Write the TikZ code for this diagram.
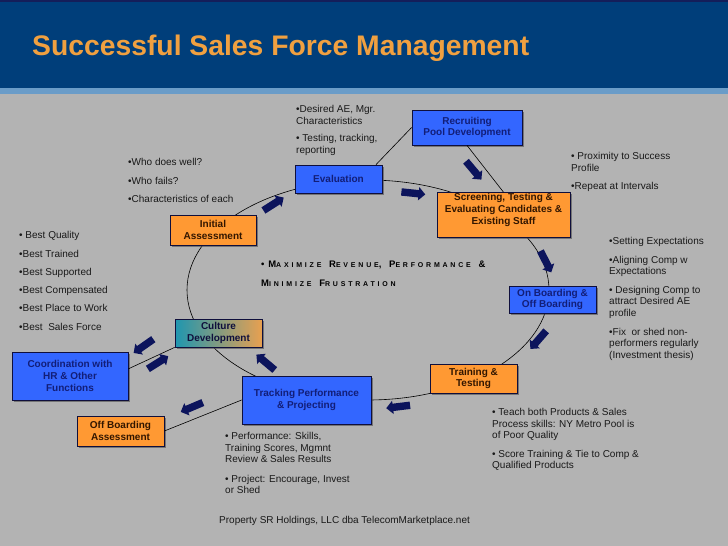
\documentclass[tikz,border=0pt]{standalone}
\usepackage{fontspec}
\setmainfont{Liberation Sans}
\newfontfamily\widefont[LetterSpace=40,WordSpace=1.2]{Liberation Sans}
\usetikzlibrary{shapes.arrows,shadows}

\definecolor{hdrblue}{RGB}{0,62,122}
\definecolor{hdrline}{RGB}{20,30,90}
\definecolor{stripblue}{RGB}{106,156,200}
\definecolor{slidegrey}{RGB}{179,179,179}
\definecolor{titleorange}{RGB}{240,160,64}
\definecolor{boxblue}{RGB}{51,102,255}
\definecolor{boxorange}{RGB}{255,153,51}
\definecolor{boxline}{RGB}{15,15,60}
\definecolor{bluetext}{RGB}{18,30,120}
\definecolor{orangetext}{RGB}{50,22,0}
\definecolor{cultureteal}{RGB}{30,150,176}
\definecolor{cultureorange}{RGB}{232,160,80}
\definecolor{arrownavy}{RGB}{12,20,92}
\definecolor{notetext}{RGB}{25,25,25}

\newcommand\smc[1]{{\fontsize{7}{7}\selectfont #1}}

\begin{document}
\begin{tikzpicture}[x=1pt,y=-1pt,
	box/.style={draw=boxline,line width=0.8pt,align=center,inner sep=1pt,
		font=\fontsize{10}{11.8}\selectfont\bfseries,
		drop shadow={shadow xshift=1.5pt,shadow yshift=-1.5pt,fill=black!70,opacity=.6}},
	bluebox/.style={box,fill=boxblue,text=bluetext},
	orangebox/.style={box,fill=boxorange,text=orangetext},
	note/.style={anchor=north west,align=left,inner sep=0pt,text=notetext,
		font=\fontsize{10}{11.8}\selectfont},
	fatarrow/.style={single arrow,fill=arrownavy,draw=none,inner sep=3.5pt,
		minimum height=24pt,minimum width=13pt,single arrow head extend=3pt}]
	\useasboundingbox (0,0) rectangle (728,546);
	
	%%% Фон и заголовок
	\fill[slidegrey] (0,0) rectangle (728,546);
	\fill[hdrblue] (0,0) rectangle (728,88);
	\fill[hdrline] (0,0) rectangle (728,2);
	\fill[stripblue] (0,88) rectangle (728,94);
	\node[anchor=base west,inner sep=0pt,text=titleorange,
		font=\fontsize{28.3}{28}\selectfont\bfseries] (title) at (32,55) {Successful Sales Force Management};
	
	%%% Цикл
	\draw[line width=0.6pt] (368,290) ellipse [x radius=181, y radius=110];
	
	%%% Блоки
	\node[bluebox,minimum width=110pt,minimum height=35pt] (recruit) at (467,127.5) {Recruiting\\Pool Development};
	\node[bluebox,minimum width=87pt,minimum height=28pt] (eval) at (338.5,179) {Evaluation};
	\node[orangebox,minimum width=133pt,minimum height=42pt,text depth=12pt] (screen) at (503.5,215) {Screening, Testing \&\\Evaluating Candidates \&\\Existing Staff};
	\node[orangebox,minimum width=86pt,minimum height=30pt] (initial) at (213,230) {Initial\\Assessment};
	\node[bluebox,minimum width=87pt,minimum height=27pt] (onboard) at (552.5,299.5) {On Boarding \&\\Off Boarding};
	\node[box,left color=cultureteal,right color=cultureorange,text=boxline,minimum width=87pt,minimum height=28pt] (culture) at (218.5,333) {Culture\\Development};
	\node[bluebox,minimum width=116pt,minimum height=48pt] (coord) at (70,376) {Coordination with\\HR \& Other\\Functions};
	\node[orangebox,minimum width=87pt,minimum height=29pt] (training) at (473.5,378.5) {Training \&\\Testing};
	\node[bluebox,minimum width=129pt,minimum height=48pt] (tracking) at (306.5,400) {Tracking Performance\\\& Projecting};
	\node[orangebox,minimum width=87pt,minimum height=30pt] (offboard) at (120.5,431) {Off Boarding\\Assessment};
	
	%%% Связи
	\draw[line width=0.6pt] (eval.21) -- (recruit.west);
	\draw[line width=0.6pt] (recruit.south) -- (screen.north);
	\draw[line width=0.6pt] (culture.south west) -- (coord.7);
	\draw[line width=0.6pt] (tracking.west) -- (offboard.east);
	
	%%% Стрелки
	\node[fatarrow,rotate=32.5] (arr1) at (272,205) {};
	\node[fatarrow,rotate=-6] (arr2) at (411.5,193) {};
	\node[fatarrow,rotate=-50] (arr3) at (472.5,169) {};
	\node[fatarrow,rotate=-63] (arr4) at (545,260) {};
	\node[fatarrow,rotate=-131] (arr5) at (539.5,338.5) {};
	\node[fatarrow,rotate=-173] (arr6) at (400,406.5) {};
	\node[fatarrow,rotate=140] (arr7) at (267,363.5) {};
	\node[fatarrow,rotate=-145] (arr8) at (145,345) {};
	\node[fatarrow,rotate=32] (arr9) at (156.5,363.5) {};
	\node[fatarrow,rotate=-157] (arr10) at (193.5,406.5) {};
	
	%%% Подписи
	\node[note] (desired) at (296,104.8) {•Desired AE, Mgr.\\Characteristics\\[6pt]• Testing, tracking,\\reporting};
	\node[note] (who) at (128,158.3) {•Who does well?\\[6.5pt]•Who fails?\\[6.5pt]•Characteristics of each};
	\node[note] (proximity) at (571,152.3) {• Proximity to Success\\Profile\\[6.5pt]•Repeat at Intervals};
	\node[note] (best) at (19,231.3) {• Best Quality\\[6.5pt]•Best Trained\\[6.5pt]•Best Supported\\[6.5pt]•Best Compensated\\[6.5pt]•Best Place to Work\\[6.5pt]•Best\ \ Sales Force};
	\node[note] (setting) at (609,237.3) {•Setting Expectations\\[6.5pt]•Aligning Comp w\\Expectations\\[6.5pt]• Designing Comp to\\attract Desired AE\\profile\\[6.5pt]•Fix\ \ or shed non-\\performers regularly\\(Investment thesis)};
	\node[note] (teach) at (492,407.8) {• Teach both Products \& Sales\\Process skills: NY Metro Pool is\\of Poor Quality\\[6.5pt]• Score Training \& Tie to Comp \&\\Qualified Products};
	\node[note] (perf) at (225,431.8) {• Performance: Skills,\\Training Scores, Mgmnt\\Review \& Sales Results\\[7.5pt]• Project: Encourage, Invest\\or Shed};
	\node[anchor=north west,align=left,inner sep=0pt,text=black,
		font=\widefont\fontsize{9.5}{19.2}\selectfont\bfseries] (goal) at (261,261) {•M\smc{AXIMIZE} R\smc{EVENUE}, P\smc{ERFORMANCE} \&\\M\smc{INIMIZE} F\smc{RUSTRATION}};
	\node[anchor=base west,inner sep=0pt,text=notetext,font=\fontsize{10}{11.8}\selectfont] (footer) at (219,523.5) {Property SR Holdings, LLC dba TelecomMarketplace.net};
\end{tikzpicture}
\end{document}
